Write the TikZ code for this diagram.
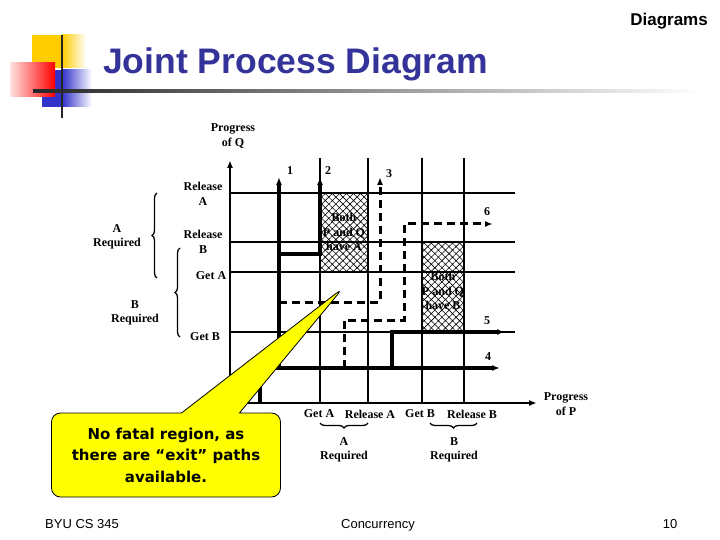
\documentclass[tikz,border=0pt]{standalone}
\usepackage{fontspec}
\setmainfont{Liberation Serif}
\setsansfont{Liberation Sans}
\newfontfamily\notefont{DejaVu Sans}
\usetikzlibrary{arrows.meta,decorations.pathreplacing,patterns.meta,shapes.callouts}

\definecolor{titleblue}{RGB}{51,51,153}
\definecolor{logoyellow}{RGB}{255,204,0}
\definecolor{logoblue}{RGB}{51,51,204}
\definecolor{noteyellow}{RGB}{255,255,0}

\begin{document}
\begin{tikzpicture}[x=1pt,y=-1pt,>={Latex[length=8pt,width=6pt]},
  grid/.style={line width=2.4pt},
  track/.style={line width=3.6pt},
  dtrack/.style={line width=3pt,dash pattern=on 8pt off 5pt},
  lbl/.style={font=\fontsize{12}{14.5}\selectfont\bfseries,align=center,inner sep=0pt},
  shared/.style={pattern={Hatch[angle=45,distance=5pt,line width=0.6pt]}},
  curly/.style={decorate,decoration={brace,amplitude=5pt},line width=1.3pt}]
  \useasboundingbox (0,0) rectangle (720,540);
  % logo and title bar
  \fill[logoyellow] (32,35) rectangle (62,68);
  \shade[left color=logoyellow,right color=white] (62,35) rectangle (86,68);
  \fill[logoblue] (42,70) rectangle (62,107);
  \shade[left color=logoblue,right color=white] (62,70) rectangle (92,107);
  \shade[left color=red!12,right color=red] (10,63) rectangle (55,97);
  \shade[left color=black!85,right color=white] (33,89.5) rectangle (700,92.5);
  \draw[line width=2.4pt,black!85] (62,35) -- (62,118);
  \node[anchor=base west,inner sep=0pt,font=\sffamily\bfseries\fontsize{35.5}{40}\selectfont,text=titleblue] (title) at (103,74) {Joint Process Diagram};
  \node[anchor=base east,inner sep=0pt,font=\sffamily\bfseries\fontsize{17}{20}\selectfont] (topic) at (708,26) {Diagrams};
  % shared regions
  \fill[shared] (320,193) rectangle (368,272);
  \fill[shared] (422,242) rectangle (464,332);
  % grid
  \foreach \x in {320,368,422,464} \draw[grid] (\x,158) -- (\x,403);
  \foreach \y in {193,242,272,332} \draw[grid] (230,\y) -- (515,\y);
  \coordinate (O) at (230,403);
  \coordinate (qend) at (230,160);
  \coordinate (pend) at (537,403);
  \draw[grid,->] (O) -- (qend);
  \draw[grid,->] (O) -- (pend);
  % trajectories
  \draw[track,->] (260,403) -- (260,368) -- (500,368);
  \draw[track,->] (279,368) -- (279,177);
  \draw[track,->] (279,254) -- (320,254) -- (320,177);
  \draw[dtrack,->] (279,302) -- (380,302) -- (380,177);
  \draw[track,->] (392,368) -- (392,332) -- (505,332);
  \draw[dtrack,->] (344,368) -- (344,320) -- (404,320) -- (404,224) -- (493,224);
  \node[lbl] (t1) at (290,171) {1};
  \node[lbl] (t2) at (328,171) {2};
  \node[lbl] (t3) at (389,174) {3};
  \node[lbl] (t6) at (487,212) {6};
  \node[lbl] (t5) at (487,321) {5};
  \node[lbl] (t4) at (488,357) {4};
  \node[lbl] (hasA) at (344,232) {Both\\P and Q\\have A};
  \node[lbl] (hasB) at (443,291) {Both\\P and Q\\have B};
  % axis labels
  \node[lbl] (progQ) at (233,136) {Progress\\of Q};
  \node[lbl] (progP) at (566,404) {Progress\\of P};
  \node[lbl] (qrelA) at (203,194) {Release\\A};
  \node[lbl] (qrelB) at (203,242) {Release\\B};
  \node[lbl] (qgetA) at (211,276) {Get A};
  \node[lbl] (qgetB) at (205,337) {Get B};
  \node[lbl] (qneedA) at (117,237) {A\\Required};
  \node[lbl] (qneedB) at (135,313) {B\\Required};
  \draw[curly] (157,278) -- (157,193);
  \draw[curly] (180,337) -- (180,248);
  \node[lbl] (pgetA) at (319,414) {Get A};
  \node[lbl] (prelA) at (370,414) {Release A};
  \node[lbl] (pgetB) at (420,414) {Get B};
  \node[lbl] (prelB) at (472,414) {Release B};
  \draw[curly] (368,423) -- (320,423);
  \draw[curly] (477,423) -- (430,423);
  \node[lbl] (pneedA) at (344,450) {A\\Required};
  \node[lbl] (pneedB) at (454,450) {B\\Required};
  % note
  \node[rectangle callout,callout absolute pointer={(343,288)},callout pointer width=58pt,
    fill=noteyellow,draw=black,line width=0.8pt,rounded corners=9pt,
    minimum width=229pt,minimum height=84pt,align=center,
    font=\notefont\bfseries\fontsize{15}{21.5}\selectfont] (note) at (166,455)
    {No fatal region, as\\there are “exit” paths\\available.};
  % footer
  \node[anchor=base west,inner sep=0pt,font=\sffamily\fontsize{13}{15}\selectfont] (foot) at (45,528) {BYU CS 345};
  \node[anchor=base,inner sep=0pt,font=\sffamily\fontsize{13}{15}\selectfont] (course) at (378,528) {Concurrency};
  \node[anchor=base,inner sep=0pt,font=\sffamily\fontsize{13}{15}\selectfont] (page) at (670,528) {10};
\end{tikzpicture}
\end{document}
